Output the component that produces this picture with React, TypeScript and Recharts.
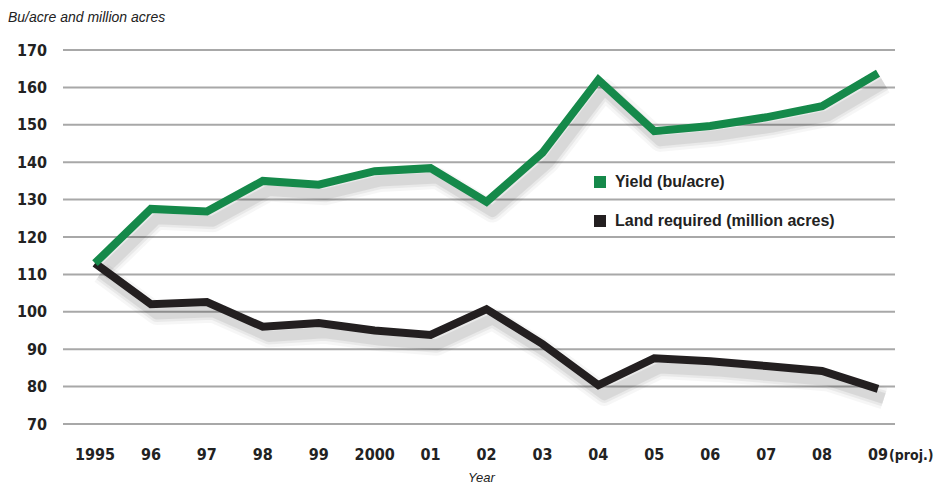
import React from 'react';
import { CartesianGrid, Line, LineChart, XAxis, YAxis } from 'recharts';

const years = ['1995', '96', '97', '98', '99', '2000', '01', '02', '03', '04', '05', '06', '07', '08', '09 (proj.)'];
const yieldBuAcre = [113, 127.5, 126.8, 135, 134, 137.6, 138.4, 129.4, 142.5, 162, 148.3, 149.7, 152, 155, 163.8];
const landRequired = [113, 102, 102.6, 96, 97, 95, 93.8, 100.7, 91.4, 80.4, 87.6, 86.8, 85.5, 84.2, 79.4];
const yTicks = [70, 80, 90, 100, 110, 120, 130, 140, 150, 160, 170];

const data = years.map((year, i) => ({ year, yield: yieldBuAcre[i], land: landRequired[i] }));

const font = '"Liberation Sans Narrow", "DejaVu Sans Condensed", Arial, sans-serif';
const GREEN = '#15894a';
const BLACK = '#231f20';

// soft shadow drawn as stacked translucent strokes on offset hidden axes
const shadowLayers = [
  { width: 22, opacity: 0.035 },
  { width: 16, opacity: 0.05 },
  { width: 11, opacity: 0.07 },
];

const YearTick = (props: any) => {
  const { x, y, payload } = props;
  const label: string = payload.value;
  if (label.includes('(')) {
    return (
      <g>
        <text x={x} y={y + 28} textAnchor="middle" fontFamily={font} fontWeight="bold" fontSize={16} fill="#222">09</text>
        <text x={x + 11} y={y + 28} textAnchor="start" fontFamily={font} fontWeight="bold" fontSize={14} fill="#222">(proj.)</text>
      </g>
    );
  }
  return (
    <text x={x} y={y + 28} textAnchor="middle" fontFamily={font} fontWeight="bold" fontSize={16} fill="#222">{label}</text>
  );
};

export default function App() {
  return (
    <div style={{ position: 'absolute', left: 0, top: 0, width: 937, height: 485, background: '#fff' }}>
      <div style={{ position: 'absolute', left: 8, top: 9, fontFamily: 'Arial, "Liberation Sans", sans-serif', fontStyle: 'italic', fontSize: 14, color: '#222' }}>
        Bu/acre and million acres
      </div>
      <div style={{ position: 'absolute', left: 468, top: 470, fontFamily: 'Arial, "Liberation Sans", sans-serif', fontStyle: 'italic', fontSize: 13, color: '#222' }}>
        Year
      </div>
      <div style={{ position: 'absolute', left: 0, top: 0 }}>
        <LineChart width={937} height={485} data={data} margin={{ top: 50, right: 42, bottom: 21, left: 0 }}>
          <CartesianGrid vertical={false} stroke="#a8a8a8" strokeWidth={2} />
          <XAxis
            dataKey="year"
            scale="point"
            padding={{ left: 32, right: 17 }}
            axisLine={false}
            tickLine={false}
            tick={<YearTick />}
            interval={0}
            height={40}
          />
          <XAxis xAxisId="shadow" dataKey="year" scale="point" padding={{ left: 38, right: 11 }} hide />
          <YAxis
            domain={[70, 170]}
            ticks={yTicks}
            axisLine={false}
            tickLine={false}
            tickSize={0}
            tickMargin={16}
            width={63}
            interval={0}
            tick={{ fontFamily: font, fontWeight: 'bold', fontSize: 16, fill: '#222' }}
          />
          <YAxis yAxisId="shadow" domain={[72.6, 172.6]} allowDataOverflow hide />
          {shadowLayers.map((s, i) => (
            <Line
              key={'sl' + i}
              xAxisId="shadow"
              yAxisId="shadow"
              dataKey="land"
              type="linear"
              stroke="#000"
              strokeOpacity={s.opacity}
              strokeWidth={s.width}
              strokeLinejoin="round"
              dot={false}
              activeDot={false}
              legendType="none"
              isAnimationActive={false}
            />
          ))}
          {shadowLayers.map((s, i) => (
            <Line
              key={'sy' + i}
              xAxisId="shadow"
              yAxisId="shadow"
              dataKey="yield"
              type="linear"
              stroke="#000"
              strokeOpacity={s.opacity}
              strokeWidth={s.width}
              strokeLinejoin="round"
              dot={false}
              activeDot={false}
              legendType="none"
              isAnimationActive={false}
            />
          ))}
          <Line
            dataKey="land"
            type="linear"
            stroke={BLACK}
            strokeWidth={8}
            strokeLinejoin="miter"
            dot={false}
            activeDot={false}
            isAnimationActive={false}
          />
          <Line
            dataKey="yield"
            type="linear"
            stroke={GREEN}
            strokeWidth={8}
            strokeLinejoin="miter"
            dot={false}
            activeDot={false}
            isAnimationActive={false}
          />
        </LineChart>
      </div>
      <div style={{ position: 'absolute', left: 594, top: 171, fontFamily: 'Arial, "Liberation Sans", sans-serif', fontWeight: 'bold', fontSize: 16, color: '#222' }}>
        <div style={{ display: 'flex', alignItems: 'center', height: 22 }}>
          <span style={{ width: 12, height: 12, background: GREEN, marginRight: 9, display: 'inline-block' }} />
          Yield (bu/acre)
        </div>
        <div style={{ display: 'flex', alignItems: 'center', height: 22, marginTop: 17 }}>
          <span style={{ width: 12, height: 12, background: BLACK, marginRight: 9, display: 'inline-block' }} />
          Land required (million acres)
        </div>
      </div>
    </div>
  );
}
